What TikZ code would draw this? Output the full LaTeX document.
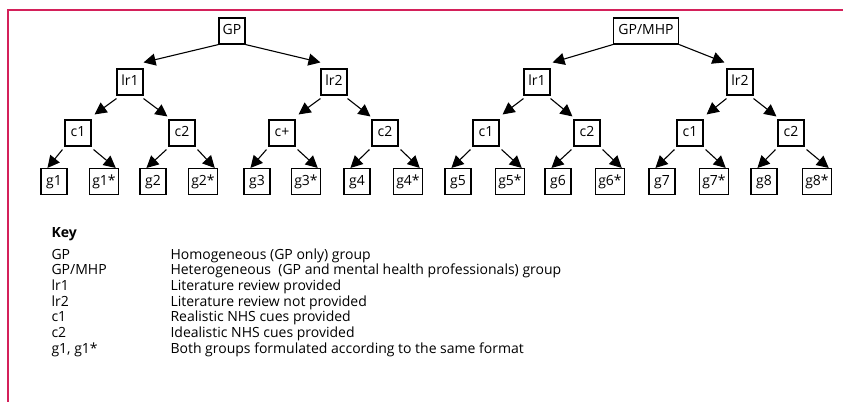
\documentclass[tikz,border=0pt]{standalone}
\usepackage{fontspec}
\setmainfont{Open Sans}
\usetikzlibrary{arrows.meta}
\definecolor{framered}{RGB}{212,32,90}
\tikzset{>={Triangle[length=12pt,width=12pt]}}

\begin{document}
\begin{tikzpicture}[x=1pt,y=-1pt,
  every node/.style={font=\fontsize{14}{16}\selectfont},
  box/.style={draw,line width=1.1pt,minimum width=26pt,minimum height=26pt,
    inner xsep=2.5pt,inner ysep=0pt,text height=10pt,text depth=3pt},
  arr/.style={->,line width=1.1pt}]
\useasboundingbox (0,0) rectangle (843,402);
\draw[framered,line width=1.5pt] (843,10)--(8,10)--(8,402);
% homogeneous tree
\node[box] (gp) at (232,31) {GP};
\node[box] (lr1a) at (130,82) {lr1};
\node[box] (lr2a) at (334,82) {lr2};
\node[box] (c1a) at (78,133) {c1};
\node[box] (c2a) at (182,133) {c2};
\node[box] (cplus) at (282,133) {c+};
\node[box] (c2b) at (385,133) {c2};
\node[box] (g1) at (54,181.5) {g1};
\node[box] (g1s) at (104,181.5) {g1*};
\node[box] (g2) at (153,181.5) {g2};
\node[box] (g2s) at (203,181.5) {g2*};
\node[box] (g3) at (257,181.5) {g3};
\node[box] (g3s) at (306,181.5) {g3*};
\node[box] (g4) at (357,181.5) {g4};
\node[box] (g4s) at (408,181.5) {g4*};
% heterogeneous tree
\node[box,inner xsep=5pt] (mhp) at (646,31) {GP/MHP};
\node[box] (lr1b) at (537,82) {lr1};
\node[box] (lr2b) at (740,82) {lr2};
\node[box] (c1c) at (486,133) {c1};
\node[box] (c2c) at (587,133) {c2};
\node[box] (c1d) at (690,133) {c1};
\node[box] (c2d) at (791,133) {c2};
\node[box] (g5) at (458,181.5) {g5};
\node[box] (g5s) at (510,181.5) {g5*};
\node[box] (g6) at (558,181.5) {g6};
\node[box] (g6s) at (610,181.5) {g6*};
\node[box] (g7) at (662,181.5) {g7};
\node[box] (g7s) at (714,181.5) {g7*};
\node[box] (g8) at (764,181.5) {g8};
\node[box] (g8s) at (817,181.5) {g8*};
% arrows, first level
\draw[arr] (gp.south west) -- ([yshift=6pt]lr1a.north east);
\draw[arr] (gp.south east) -- ([yshift=6pt]lr2a.north west);
\draw[arr] (mhp.south west) -- ([shift={(2pt,6pt)}]lr1b.north east);
\draw[arr] (mhp.south east) -- ([shift={(-2pt,6pt)}]lr2b.north west);
% arrows, second level
\draw[arr] ([yshift=-3pt]lr1a.south west) -- ([shift={(3pt,5pt)}]c1a.north east);
\draw[arr] ([yshift=-3pt]lr1a.south east) -- ([shift={(-1pt,3pt)}]c2a.north west);
\draw[arr] ([yshift=-3pt]lr2a.south west) -- ([shift={(3pt,5pt)}]cplus.north east);
\draw[arr] ([yshift=-3pt]lr2a.south east) -- ([shift={(-1pt,3pt)}]c2b.north west);
\draw[arr] ([yshift=-3pt]lr1b.south west) -- ([shift={(3pt,5pt)}]c1c.north east);
\draw[arr] ([yshift=-3pt]lr1b.south east) -- ([shift={(-1pt,3pt)}]c2c.north west);
\draw[arr] ([yshift=-3pt]lr2b.south west) -- ([shift={(3pt,5pt)}]c1d.north east);
\draw[arr] ([yshift=-3pt]lr2b.south east) -- ([shift={(-1pt,3pt)}]c2d.north west);
% arrows, third level
\draw[arr] ([shift={(-2pt,-3pt)}]c1a.south west) -- ([xshift=7pt]g1.north west);
\draw[arr] ([shift={(2pt,-3pt)}]c1a.south east) -- ([xshift=-3pt]g1s.north east);
\draw[arr] ([shift={(-2pt,-3pt)}]c2a.south west) -- ([xshift=7pt]g2.north west);
\draw[arr] ([shift={(2pt,-3pt)}]c2a.south east) -- ([xshift=-3pt]g2s.north east);
\draw[arr] ([shift={(-2pt,-3pt)}]cplus.south west) -- ([xshift=7pt]g3.north west);
\draw[arr] ([shift={(2pt,-3pt)}]cplus.south east) -- ([xshift=-3pt]g3s.north east);
\draw[arr] ([shift={(-2pt,-3pt)}]c2b.south west) -- ([xshift=7pt]g4.north west);
\draw[arr] ([shift={(2pt,-3pt)}]c2b.south east) -- ([xshift=-3pt]g4s.north east);
\draw[arr] ([shift={(-2pt,-3pt)}]c1c.south west) -- ([xshift=7pt]g5.north west);
\draw[arr] ([shift={(2pt,-3pt)}]c1c.south east) -- ([xshift=-3pt]g5s.north east);
\draw[arr] ([shift={(-2pt,-3pt)}]c2c.south west) -- ([xshift=7pt]g6.north west);
\draw[arr] ([shift={(2pt,-3pt)}]c2c.south east) -- ([xshift=-3pt]g6s.north east);
\draw[arr] ([shift={(-2pt,-3pt)}]c1d.south west) -- ([xshift=7pt]g7.north west);
\draw[arr] ([shift={(2pt,-3pt)}]c1d.south east) -- ([xshift=-3pt]g7s.north east);
\draw[arr] ([shift={(-2pt,-3pt)}]c2d.south west) -- ([xshift=7pt]g8.north west);
\draw[arr] ([shift={(2pt,-3pt)}]c2d.south east) -- ([xshift=-3pt]g8s.north east);
% key
\node[anchor=base west,font=\fontsize{14}{16}\selectfont\bfseries] (key) at (48,237) {Key};
\node[anchor=base west] (kgp) at (48,259) {GP};
\node[anchor=base west] (dgp) at (167,259) {Homogeneous (GP only) group};
\node[anchor=base west] (kmhp) at (48,274.7) {GP/MHP};
\node[anchor=base west] (dmhp) at (167,274.7) {Heterogeneous\ \ (GP and mental health professionals) group};
\node[anchor=base west] (klr1) at (48,290.4) {lr1};
\node[anchor=base west] (dlr1) at (167,290.4) {Literature review provided};
\node[anchor=base west] (klr2) at (48,306.1) {lr2};
\node[anchor=base west] (dlr2) at (167,306.1) {Literature review not provided};
\node[anchor=base west] (kc1) at (48,321.8) {c1};
\node[anchor=base west] (dc1) at (167,321.8) {Realistic NHS cues provided};
\node[anchor=base west] (kc2) at (48,337.5) {c2};
\node[anchor=base west] (dc2) at (167,337.5) {Idealistic NHS cues provided};
\node[anchor=base west] (kg) at (48,353.2) {g1, g1*};
\node[anchor=base west] (dg) at (167,353.2) {Both groups formulated according to the same format};
\end{tikzpicture}
\end{document}
